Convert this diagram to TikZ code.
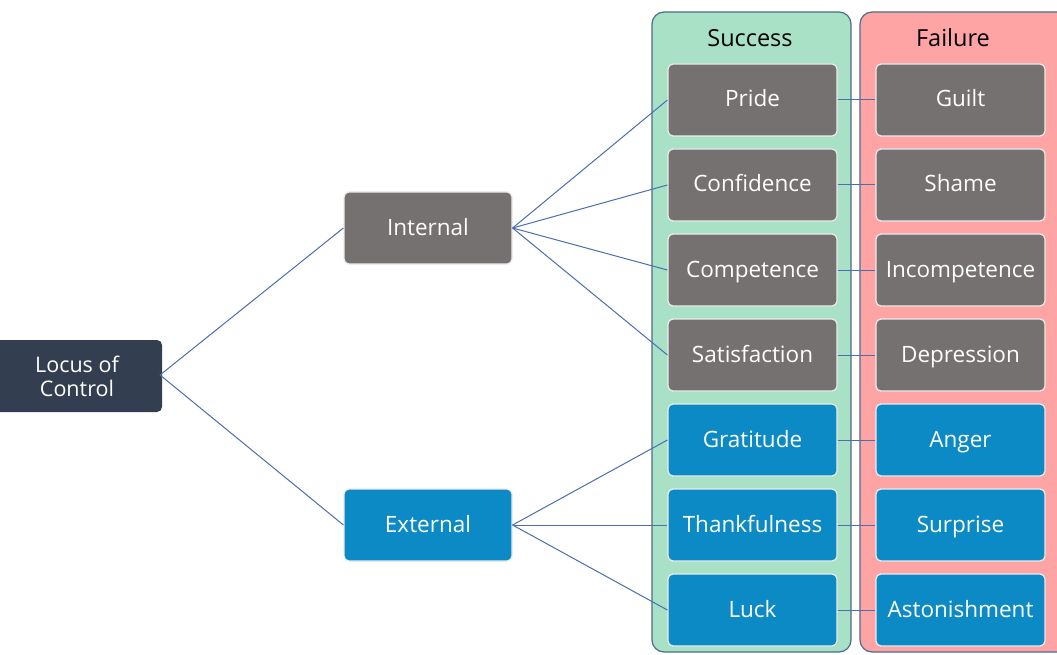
\documentclass[tikz,border=0pt]{standalone}
\usepackage{fontspec}
\setmainfont{Open Sans}
\begin{document}
\begin{tikzpicture}[x=1pt,y=-1pt,
  box/.style={draw=white!85!gray,line width=1.2pt,rounded corners=5pt,minimum width=169pt,minimum height=72pt,inner sep=0pt,text=white,font=\fontsize{22.5}{26}\selectfont,text height=18pt,text depth=4pt},
  greybox/.style={box,fill=boxgrey},
  bluebox/.style={box,fill=boxblue},
  panel/.style={draw=panelborder,line width=1.2pt,rounded corners=12pt},
  link/.style={draw=linkblue,line width=1pt},
  head/.style={font=\fontsize{23.5}{26}\selectfont,text=black,text height=18pt,text depth=4pt,inner sep=0pt}]
\definecolor{boxgrey}{HTML}{767171}
\definecolor{boxblue}{HTML}{0B8AC5}
\definecolor{locus}{HTML}{333F50}
\definecolor{succfill}{HTML}{A8E1C5}
\definecolor{failfill}{HTML}{FFA4A4}
\definecolor{panelborder}{HTML}{4A6E8C}
\definecolor{linkblue}{HTML}{4A6FB0}
\useasboundingbox (0,0) rectangle (1057,655);
\clip (0,0) rectangle (1057,655);
\fill[white] (0,0) rectangle (1057,655);
% panels
\draw[panel,fill=succfill] (652,12) rectangle (851,652);
\draw[panel,fill=failfill] (860,12) rectangle (1070,652);
\node[head] (hs) at (750,40) {Success};
\node[head] (hf) at (953,40) {Failure};
% root and branches
\node[box,fill=locus,draw=none,minimum width=170pt,minimum height=72pt,align=center,text height=,text depth=,font=\fontsize{21.5}{24}\selectfont] (loc) at (77,376) {Locus of\\Control};
\node[greybox,minimum width=168pt] (int) at (428,228) {Internal};
\node[bluebox,minimum width=168pt] (ext) at (428,525) {External};
% success column
\node[greybox] (s1) at (752.5,100) {Pride};
\node[greybox] (s2) at (752.5,185) {Confidence};
\node[greybox] (s3) at (752.5,270) {Competence};
\node[greybox] (s4) at (752.5,355) {Satisfaction};
\node[bluebox] (s5) at (752.5,440) {Gratitude};
\node[bluebox] (s6) at (752.5,525) {Thankfulness};
\node[bluebox] (s7) at (752.5,610) {Luck};
% failure column
\node[greybox] (f1) at (960.5,100) {Guilt};
\node[greybox] (f2) at (960.5,185) {Shame};
\node[greybox] (f3) at (960.5,270) {Incompetence};
\node[greybox] (f4) at (960.5,355) {Depression};
\node[bluebox] (f5) at (960.5,440) {Anger};
\node[bluebox] (f6) at (960.5,525) {Surprise};
\node[bluebox] (f7) at (960.5,610) {Astonishment};
% connectors
\draw[link] (160,375) coordinate (lr) -- (int.west);
\draw[link] (lr) -- (ext.west);
\foreach \s in {s1,s2,s3,s4} \draw[link] (int.east) -- (\s.west);
\foreach \s in {s5,s6,s7} \draw[link] (ext.east) -- (\s.west);
\foreach \i in {1,...,7} \draw[link] (s\i.east) -- (f\i.west);
\end{tikzpicture}
\end{document}
